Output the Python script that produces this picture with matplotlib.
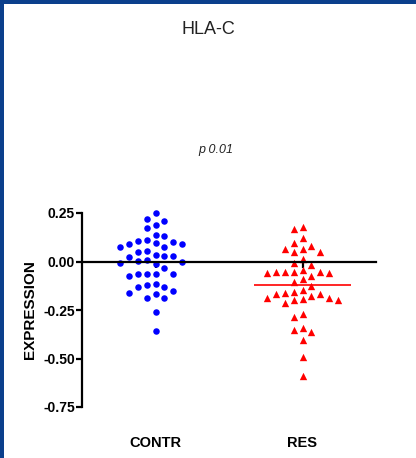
import numpy as np
import matplotlib.pyplot as plt
from matplotlib.patches import Rectangle

# expression values
categories = ['CONTR', 'RES']
contr = [0.251, 0.218, 0.208, 0.186, 0.172, 0.139, 0.130, 0.112, 0.098, 0.076,
         0.091, 0.091, 0.094, 0.107, 0.074, 0.055, 0.050, 0.031, 0.030, 0.023,
         0.026, 0.003, 0.007, -0.015, -0.010, -0.005, -0.033, -0.062, -0.062,
         -0.076, -0.065, -0.062, -0.117, -0.151, -0.132, -0.168, -0.132, -0.189,
         -0.120, -0.186, -0.161, -0.258, -0.359]
res = [0.168, 0.177, 0.122, 0.079, 0.062, 0.093, 0.067, 0.048, 0.048, 0.012,
       -0.007, -0.017, -0.043, -0.053, -0.055, -0.091, -0.060, -0.057, -0.074,
       -0.055, -0.052, -0.108, -0.125, -0.148, -0.160, -0.168, -0.165, -0.156,
       -0.187, -0.194, -0.201, -0.213, -0.196, -0.189, -0.177, -0.285, -0.273,
       -0.342, -0.352, -0.361, -0.404, -0.493, -0.591]
yticks = [0.25, 0.00, -0.25, -0.50, -0.75]
pvalue = 'p 0.01'

plt.rcParams['font.family'] = ['Liberation Sans', 'DejaVu Sans']


def swarm(vals, step=0.06, gap=0.045):
    # simple column beeswarm: put each point in the nearest free column
    order = np.argsort(vals)[::-1]
    offs = np.zeros(len(vals))
    placed = {}
    for i in order:
        v = vals[i]
        k = 0
        while True:
            for c in ([0] if k == 0 else [-k, k]):
                if all(abs(v - u) >= gap for u in placed.get(c, [])):
                    placed.setdefault(c, []).append(v)
                    offs[i] = c * step
                    break
            else:
                k += 1
                continue
            break
    return offs


fig = plt.figure(figsize=(4.16, 4.58), dpi=100, facecolor='#0b3f8c')
fig.patches.append(Rectangle((4/416, 0), 1, 1 - 4/458, transform=fig.transFigure,
                             facecolor='white', edgecolor='none', zorder=-5))

ax = fig.add_axes([82/416, 51/458, 294/416, 194/458])
ax.patch.set_alpha(0)
ax.set_xlim(-0.5, 1.5)
ax.set_ylim(-0.75, 0.25)

groups = [(np.array(contr), 'o', '#0000ff', 22), (np.array(res), '^', '#ff0000', 28)]
for i, (vals, mk, col, size) in enumerate(groups):
    x = i + swarm(vals)
    ax.hlines(vals.mean(), i - 0.333, i + 0.333, color=col, lw=1.2, zorder=2)
    ax.scatter(x, vals, marker=mk, s=size, color=col, linewidths=0, zorder=3, clip_on=False)
    ax.text(i, -0.935, categories[i], ha='center', va='center', fontsize=10.5,
            fontweight='bold', clip_on=False)

ax.spines['right'].set_visible(False)
ax.spines['top'].set_visible(False)
ax.spines['bottom'].set_position(('data', 0))
ax.spines['bottom'].set_zorder(4)
for s in ['left', 'bottom']:
    ax.spines[s].set_linewidth(1.6)

ax.set_xticks([0, 1])
ax.set_xticklabels([])
ax.set_yticks(yticks)
ax.set_yticklabels(['%.2f' % t for t in yticks], fontsize=10, fontweight='bold')
ax.tick_params(width=1.6, length=4, direction='out', pad=1)

fig.text(30/416, 1 - 310/458, 'EXPRESSION', rotation=90, ha='center', va='center',
         fontsize=11, fontweight='bold')
fig.text(0.5, 1 - 30/458, 'HLA-C', ha='center', va='center', fontsize=13, color='#222222')
fig.text(216/416, 1 - 150/458, pvalue, ha='center', va='center', fontsize=9,
         style='italic', color='#222222')

fig.savefig('out.png', dpi=100, facecolor=fig.get_facecolor())
